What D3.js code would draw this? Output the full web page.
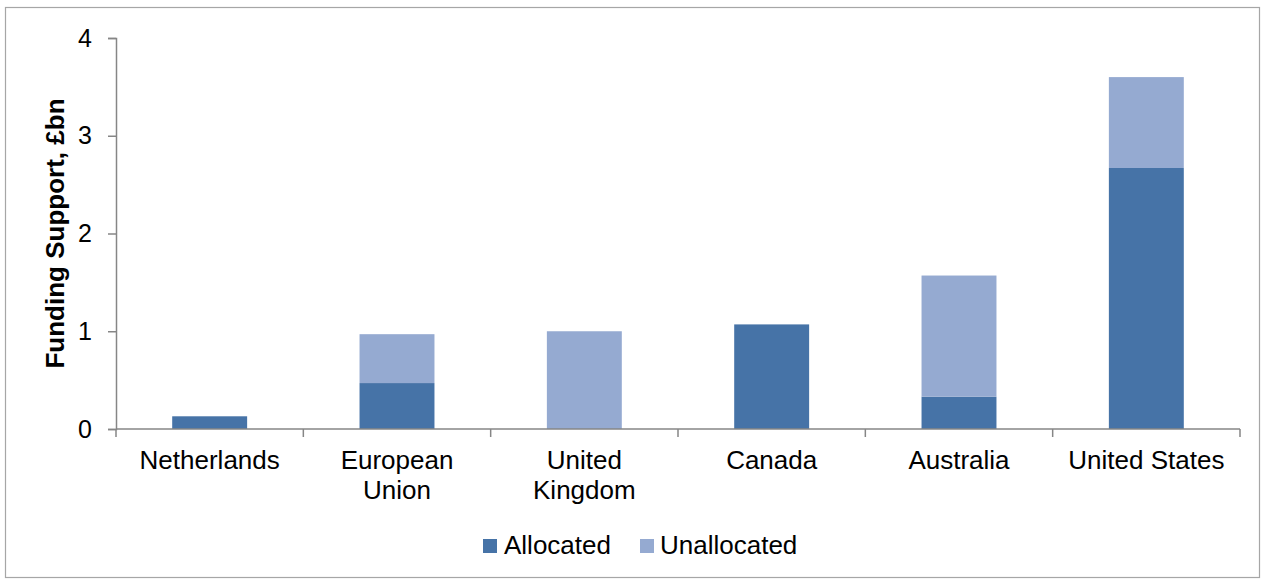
<!DOCTYPE html>
<html>
<head>
<meta charset="utf-8">
<script src="https://cdn.jsdelivr.net/npm/d3@7"></script>
<style>
  html, body { margin: 0; padding: 0; background: #fff; }
  svg text { font-family: "Liberation Sans", Arial, sans-serif; fill: #000; }
</style>
</head>
<body>
<svg id="chart" width="1266" height="580"></svg>
<script>
// Funding support by country, £bn
const categories = ["Netherlands", "European Union", "United Kingdom", "Canada", "Australia", "United States"];
const categoryLines = [["Netherlands"], ["European", "Union"], ["United", "Kingdom"], ["Canada"], ["Australia"], ["United States"]];
const allocated   = [0.13, 0.47, 0.00, 1.07, 0.33, 2.67];
const unallocated = [0.00, 0.50, 1.00, 0.00, 1.24, 0.93];
const seriesNames = ["Allocated", "Unallocated"];
const seriesColors = ["#4673A7", "#95AAD1"];
const yTicks = [0, 1, 2, 3, 4];

const svg = d3.select("#chart");

// outer frame
svg.append("rect")
  .attr("x", 5.5).attr("y", 7.5)
  .attr("width", 1254).attr("height", 570)
  .attr("fill", "none").attr("stroke", "#A6A6A6").attr("stroke-width", 1.2);

const plot = { left: 116, right: 1240, top: 38, bottom: 429 };

const x = d3.scaleBand()
  .domain(categories)
  .range([plot.left, plot.right])
  .paddingInner(0.6)
  .paddingOuter(0.3);

const y = d3.scaleLinear()
  .domain([0, 4])
  .range([plot.bottom, plot.top]);

const rows = categories.map((c, i) => ({ category: c, Allocated: allocated[i], Unallocated: unallocated[i] }));
const stacked = d3.stack().keys(seriesNames)(rows);

// bars
svg.append("g")
  .selectAll("g")
  .data(stacked)
  .join("g")
  .attr("fill", (d, i) => seriesColors[i])
  .selectAll("rect")
  .data(d => d.filter(s => s[1] - s[0] > 0))
  .join("rect")
  .attr("x", d => x(d.data.category))
  .attr("width", x.bandwidth())
  .attr("y", d => y(d[1]))
  .attr("height", d => y(d[0]) - y(d[1]));

// y axis
const yAxis = svg.append("g")
  .attr("transform", `translate(${plot.left},0)`)
  .call(d3.axisLeft(y).tickValues(yTicks).tickFormat(d3.format("d")).tickSize(8).tickPadding(16));
yAxis.select(".domain").attr("stroke", "#868686").attr("stroke-width", 1.5);
yAxis.selectAll(".tick line").attr("stroke", "#868686").attr("stroke-width", 1.5);
yAxis.selectAll(".tick text")
  .style("font-size", "25px")
  .style("font-family", "Liberation Sans, Arial, sans-serif")
  .attr("fill", "#000");

// x axis with category boundary ticks
const xAxisG = svg.append("g").attr("transform", `translate(0,${plot.bottom})`);
xAxisG.append("line")
  .attr("x1", plot.left).attr("x2", plot.right)
  .attr("stroke", "#868686").attr("stroke-width", 1.5);
const bounds = d3.range(categories.length + 1).map(i => plot.left + i * (plot.right - plot.left) / categories.length);
xAxisG.selectAll("line.tick")
  .data(bounds)
  .join("line")
  .attr("class", "tick")
  .attr("x1", d => d).attr("x2", d => d)
  .attr("y1", 0).attr("y2", 8)
  .attr("stroke", "#868686").attr("stroke-width", 1.5);

const labels = xAxisG.selectAll("text.cat")
  .data(categories)
  .join("text")
  .attr("class", "cat")
  .attr("text-anchor", "middle")
  .attr("transform", d => `translate(${x(d) + x.bandwidth() / 2},0)`)
  .style("font-size", "26px");
labels.each(function(d, i) {
  d3.select(this).selectAll("tspan")
    .data(categoryLines[i])
    .join("tspan")
    .attr("x", 0)
    .attr("y", (t, j) => 40 + j * 30)
    .text(t => t);
});

// y axis title
svg.append("text")
  .attr("transform", `translate(64,${(plot.top + plot.bottom) / 2}) rotate(-90)`)
  .attr("text-anchor", "middle")
  .style("font-size", "26px")
  .style("font-weight", "bold")
  .text("Funding Support, £bn");

// legend
const legendItems = [{ x: 483, textX: 504 }, { x: 640, textX: 660 }];
const legend = svg.append("g").selectAll("g")
  .data(seriesNames)
  .join("g");
legend.append("rect")
  .attr("x", (d, i) => legendItems[i].x)
  .attr("y", 539)
  .attr("width", 14).attr("height", 14)
  .attr("fill", (d, i) => seriesColors[i]);
legend.append("text")
  .attr("x", (d, i) => legendItems[i].textX)
  .attr("y", 554)
  .style("font-size", "26px")
  .text(d => d);
</script>
</body>
</html>
